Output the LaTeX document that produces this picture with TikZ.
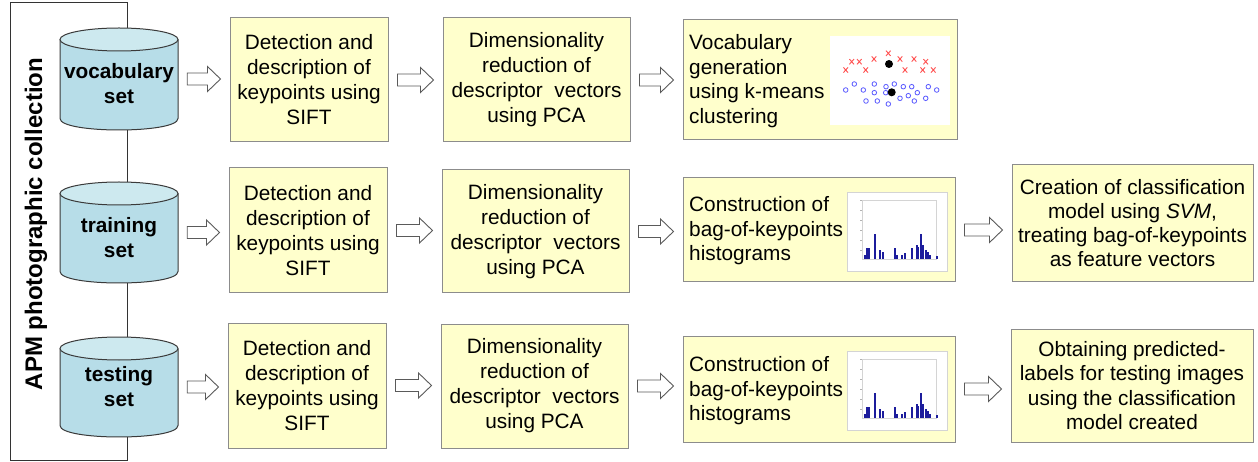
\documentclass[tikz,border=0pt]{standalone}
\usepackage{fontspec}
\setmainfont{Liberation Sans}
\usetikzlibrary{calc}
\definecolor{boxfill}{HTML}{FFFFCC}
\definecolor{boxline}{HTML}{8C8C8C}
\definecolor{cylbody}{HTML}{B7DDE8}
\definecolor{cyltop}{HTML}{CDE9EF}
\definecolor{cylline}{HTML}{3A3A3A}
\definecolor{arrline}{HTML}{5A5A5A}
\definecolor{barblue}{HTML}{1C1C9C}
\definecolor{xred}{HTML}{FF5050}
\definecolor{oblue}{HTML}{5A5AFF}
\definecolor{axisgray}{HTML}{D4D4D4}

\tikzset{
  stepbox/.style={draw=boxline, line width=1pt, fill=boxfill, inner sep=0pt, align=center,
    font=\fontsize{20.8}{25}\selectfont},
  lefttext/.style={inner sep=0pt, align=left, anchor=west, font=\fontsize{20.8}{24.5}\selectfont},
  cyltext/.style={inner sep=0pt, align=center, font=\bfseries\fontsize{20.8}{25}\selectfont},
  cylstroke/.style={draw=cylline, line width=1pt},
  barrow/.style={draw=arrline, fill=white, line width=0.9pt, line join=miter},
  framestyle/.style={draw=black!80, line width=1pt}
}

\newcommand\pbox[6]{\node[stepbox, minimum width=#4pt, minimum height=#5pt] (#1) at (#2,#3) {#6};}

\newcommand\blockarr[2]{%
  \path (#1.east) ++(9,0) coordinate (ba);
  \path (#2.west) ++(-9,0) coordinate (bt);
  \path (bt |- ba) coordinate (bc);
  \draw[barrow] ($(ba)+(0,-6)$) -- ($(bc)+(-13,-6)$) -- ($(bc)+(-13,-12.5)$) -- (bc)
    -- ($(bc)+(-13,12.5)$) -- ($(bc)+(-13,6)$) -- ($(ba)+(0,6)$) -- cycle;}

\newcommand\cylshape[5]{%
  \pgfmathsetmacro\cylT{#2+11.5}%
  \pgfmathsetmacro\cylB{#3-11.5}%
  \pgfmathsetmacro\cylC{#3-11.5+15.33}%
  \fill[cylbody] (60,\cylT) -- (60,\cylB) .. controls (60,\cylC) and (178,\cylC) .. (178,\cylB) -- (178,\cylT) -- cycle;
  \draw[cylstroke] (60,\cylT) -- (60,\cylB) .. controls (60,\cylC) and (178,\cylC) .. (178,\cylB) -- (178,\cylT);
  \draw[cylstroke, fill=cyltop] (119,\cylT) ellipse (59 and 11.5);
  \node[inner sep=0pt, minimum width=118pt, minimum height={#3-#2}] (#1) at (119,{(#2+#3)/2}) {};
  \node[cyltext] (#1t) at (119,#4) {#5};
}

\newcommand\histo{%
  \fill[white] (847,192) rectangle (947,271);
  \draw[axisgray, line width=0.5pt] (847,192) rectangle (947,271);
  \draw[axisgray, line width=0.6pt] (862,200) rectangle (936,259);
  \foreach \ty in {200,210,220,230,240,250}
    \draw[gray!60, line width=0.5pt] (860,\ty) -- (862,\ty);
  \foreach \bx/\by in {865/255, 867.3/248.3, 869.3/248.3, 875/234.3, 880/250, 883.3/251.7,
      895/248.3, 896.5/255, 901.7/255, 905/253.3, 911.7/248.3, 916.7/245, 918.3/246.7,
      921/234.3, 923.3/245, 926/250, 928.3/251.7, 930/255, 936.7/256}
    \fill[barblue] (\bx-1.1,259) rectangle (\bx+1.1,\by);
}

\begin{document}
\begin{tikzpicture}[x=1pt, y=-1pt]
\useasboundingbox (0,0) rectangle (1258,462);
\fill[white] (0,0) rectangle (1258,462);

% collection frame
\draw[framestyle] (10,3) rectangle (127,460);
\node[font=\bfseries\fontsize{24}{28}\selectfont, rotate=90, anchor=base, inner sep=0pt] (apm) at (42,224) {APM photographic collection};

% cylinders
\cylshape{cv}{28}{130}{84}{vocabulary\\set}
\cylshape{ctr}{182}{283}{238}{training\\set}
\cylshape{cte}{337}{437}{387}{testing\\set}

% row 1
\pbox{d1}{309}{80}{158}{124}{Detection and\\description of\\keypoints using\\SIFT}
\pbox{r1}{536.5}{80}{187}{124}{Dimensionality\\reduction of\\descriptor\ \ vectors\\using PCA}
\node[stepbox, minimum width=274pt, minimum height=120pt] (v1) at (820,80) {};
\node[lefttext] (v1t) at (689,81) {Vocabulary\\generation\\using k-means\\clustering};
% scatter picture
\fill[white] (830,36) rectangle (950,125);
\foreach \px/\py in {851.7/61.7, 859.3/61.7, 874/59, 888.3/53.3, 900/59, 914/59, 925.7/61.7,
    845.7/70, 865.7/70, 905/70, 922.7/70, 933.3/70}
  \draw[xred, line width=0.9pt] (\px-2.3,\py-2.6) -- (\px+2.3,\py+2.6) (\px-2.3,\py+2.6) -- (\px+2.3,\py-2.6);
\foreach \px/\py in {845.7/90, 854.3/84, 863.3/90, 874.3/84, 874.3/92.7, 886/86.7, 894.3/84,
    903.3/86.7, 911.7/86.7, 885.7/92.7, 917.3/92.7, 928.3/86.7, 936.7/90,
    866/101, 877.3/101, 888.3/104, 900/98.3, 908.3/95.7, 914.3/101, 925.7/98.3}
  \draw[oblue, line width=0.8pt] (\px,\py) circle (2.3);
\fill[black] (889,64) circle (4);
\fill[black] (891.7,92.3) circle (4);

% row 2
\pbox{d2}{308}{230.5}{158}{125}{Detection and\\description of\\keypoints using\\SIFT}
\pbox{r2}{535.5}{231.5}{187}{123}{Dimensionality\\reduction of\\descriptor\ \ vectors\\using PCA}
\node[stepbox, minimum width=272pt, minimum height=104pt] (c2) at (819,230) {};
\node[lefttext] (c2t) at (689,231) {Construction of\\bag-of-keypoints\\histograms};
\histo
\node[stepbox, minimum width=241pt, minimum height=117pt, font=\fontsize{20.8}{24}\selectfont] (m2) at (1132.5,223.5)
  {Creation of classification\\model using \textit{SVM},\\treating bag-of-keypoints\\as feature vectors};

% row 3
\pbox{d3}{307}{385.5}{158}{125}{Detection and\\description of\\keypoints using\\SIFT}
\pbox{r3}{534.5}{386}{187}{124}{Dimensionality\\reduction of\\descriptor\ \ vectors\\using PCA}
\node[stepbox, minimum width=272pt, minimum height=106pt] (c3) at (819,389) {};
\node[lefttext] (c3t) at (689,391) {Construction of\\bag-of-keypoints\\histograms};
\begin{scope}[shift={(0,159)}]
\histo
\end{scope}
\node[stepbox, minimum width=242pt, minimum height=113pt, font=\fontsize{20.8}{24.5}\selectfont] (p3) at (1132,385.5)
  {Obtaining predicted-\\labels for testing images\\using the classification\\model created};

% block arrows
\blockarr{cv}{d1}
\blockarr{d1}{r1}
\blockarr{r1}{v1}
\blockarr{ctr}{d2}
\blockarr{d2}{r2}
\blockarr{r2}{c2}
\blockarr{c2}{m2}
\blockarr{cte}{d3}
\blockarr{d3}{r3}
\blockarr{r3}{c3}
\blockarr{c3}{p3}
\end{tikzpicture}
\end{document}
